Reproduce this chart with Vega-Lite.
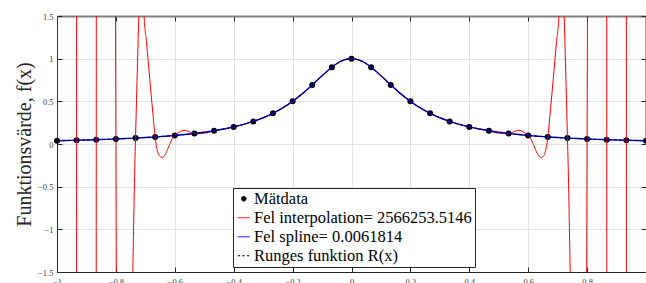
{
  "$schema": "https://vega.github.io/schema/vega-lite/v6.json",
  "width": 589,
  "height": 256,
  "autosize": {"type": "none"},
  "padding": {"left": 57, "top": 16, "right": 0, "bottom": 11},
  "background": "white",
  "config": {
    "view": {"stroke": null},
    "axis": {
      "labelFont": "Liberation Serif",
      "titleFont": "Liberation Serif",
      "labelFontSize": 8.5,
      "labelColor": "#404040",
      "domainColor": "#262626",
      "tickColor": "#262626",
      "gridColor": "#e3e3e3",
      "gridWidth": 1,
      "tickSize": -5,
      "domainWidth": 1,
      "format": "~g"
    }
  },
  "datasets": {
    "nodes": [
      {"x": -1, "y": 0.03846}, {"x": -0.9333, "y": 0.0439}, {"x": -0.8667, "y": 0.05056}, {"x": -0.8, "y": 0.05882},
      {"x": -0.7333, "y": 0.06923}, {"x": -0.6667, "y": 0.08257}, {"x": -0.6, "y": 0.1}, {"x": -0.5333, "y": 0.12329},
      {"x": -0.4667, "y": 0.15517}, {"x": -0.4, "y": 0.2}, {"x": -0.3333, "y": 0.26471}, {"x": -0.2667, "y": 0.36},
      {"x": -0.2, "y": 0.5}, {"x": -0.1333, "y": 0.69231}, {"x": -0.0667, "y": 0.9}, {"x": 0, "y": 1},
      {"x": 0.0667, "y": 0.9}, {"x": 0.1333, "y": 0.69231}, {"x": 0.2, "y": 0.5}, {"x": 0.2667, "y": 0.36},
      {"x": 0.3333, "y": 0.26471}, {"x": 0.4, "y": 0.2}, {"x": 0.4667, "y": 0.15517}, {"x": 0.5333, "y": 0.12329},
      {"x": 0.6, "y": 0.1}, {"x": 0.6667, "y": 0.08257}, {"x": 0.7333, "y": 0.06923}, {"x": 0.8, "y": 0.05882},
      {"x": 0.8667, "y": 0.05056}, {"x": 0.9333, "y": 0.0439}, {"x": 1, "y": 0.03846}
    ],
    "curve": [
      {"x": -1, "R": 0.03846}, {"x": -0.9667, "R": 0.04105}, {"x": -0.9333, "R": 0.0439}, {"x": -0.9, "R": 0.04706},
      {"x": -0.8667, "R": 0.05056}, {"x": -0.8333, "R": 0.05446}, {"x": -0.8, "R": 0.05882}, {"x": -0.7667, "R": 0.06372},
      {"x": -0.7333, "R": 0.06923}, {"x": -0.7, "R": 0.07547}, {"x": -0.6667, "R": 0.08257}, {"x": -0.6333, "R": 0.09068},
      {"x": -0.6, "R": 0.1}, {"x": -0.5667, "R": 0.11077}, {"x": -0.5333, "R": 0.12329}, {"x": -0.5, "R": 0.13793},
      {"x": -0.4667, "R": 0.15517}, {"x": -0.4333, "R": 0.17561}, {"x": -0.4, "R": 0.2}, {"x": -0.3667, "R": 0.2293},
      {"x": -0.3333, "R": 0.26471}, {"x": -0.3, "R": 0.30769}, {"x": -0.2667, "R": 0.36}, {"x": -0.2333, "R": 0.42353},
      {"x": -0.2, "R": 0.5}, {"x": -0.1667, "R": 0.59016}, {"x": -0.1333, "R": 0.69231}, {"x": -0.1, "R": 0.8},
      {"x": -0.0667, "R": 0.9}, {"x": -0.0333, "R": 0.97297}, {"x": 0, "R": 1},
      {"x": 0.0333, "R": 0.97297}, {"x": 0.0667, "R": 0.9}, {"x": 0.1, "R": 0.8}, {"x": 0.1333, "R": 0.69231},
      {"x": 0.1667, "R": 0.59016}, {"x": 0.2, "R": 0.5}, {"x": 0.2333, "R": 0.42353}, {"x": 0.2667, "R": 0.36},
      {"x": 0.3, "R": 0.30769}, {"x": 0.3333, "R": 0.26471}, {"x": 0.3667, "R": 0.2293}, {"x": 0.4, "R": 0.2},
      {"x": 0.4333, "R": 0.17561}, {"x": 0.4667, "R": 0.15517}, {"x": 0.5, "R": 0.13793}, {"x": 0.5333, "R": 0.12329},
      {"x": 0.5667, "R": 0.11077}, {"x": 0.6, "R": 0.1}, {"x": 0.6333, "R": 0.09068}, {"x": 0.6667, "R": 0.08257},
      {"x": 0.7, "R": 0.07547}, {"x": 0.7333, "R": 0.06923}, {"x": 0.7667, "R": 0.06372}, {"x": 0.8, "R": 0.05882},
      {"x": 0.8333, "R": 0.05446}, {"x": 0.8667, "R": 0.05056}, {"x": 0.9, "R": 0.04706}, {"x": 0.9333, "R": 0.0439},
      {"x": 0.9667, "R": 0.04105}, {"x": 1, "R": 0.03846}
    ],
    "interp": [
      {"x": -1, "p": 0.03846}, {"x": -0.99898, "p": 2000}, {"x": -0.99662, "p": 8000}, {"x": -0.98985, "p": 25000},
      {"x": -0.9797, "p": 40000}, {"x": -0.96954, "p": 35000}, {"x": -0.95939, "p": 20000}, {"x": -0.94924, "p": 7000},
      {"x": -0.93909, "p": 1000}, {"x": -0.93435, "p": 150}, {"x": -0.93333, "p": 0.0439},
      {"x": -0.93232, "p": -100}, {"x": -0.92995, "p": -400}, {"x": -0.92318, "p": -1200}, {"x": -0.91303, "p": -1900},
      {"x": -0.90288, "p": -1800}, {"x": -0.89272, "p": -1200}, {"x": -0.88257, "p": -500}, {"x": -0.87242, "p": -100},
      {"x": -0.86768, "p": -20}, {"x": -0.86667, "p": 0.05056},
      {"x": -0.86498, "p": 15}, {"x": -0.86328, "p": 30}, {"x": -0.8599, "p": 55}, {"x": -0.85313, "p": 85},
      {"x": -0.84636, "p": 95}, {"x": -0.8396, "p": 85}, {"x": -0.82945, "p": 60}, {"x": -0.81929, "p": 30},
      {"x": -0.80914, "p": 10}, {"x": -0.80407, "p": 4.06}, {"x": -0.8017, "p": 2.06}, {"x": -0.8, "p": 0.05882},
      {"x": -0.79831, "p": -1.94}, {"x": -0.79662, "p": -4.44}, {"x": -0.79323, "p": -8.94}, {"x": -0.78816, "p": -12.94},
      {"x": -0.78308, "p": -14.94}, {"x": -0.778, "p": -14.438}, {"x": -0.77124, "p": -11.437}, {"x": -0.76447, "p": -8.4356},
      {"x": -0.7577, "p": -5.7346}, {"x": -0.75093, "p": -3.5335}, {"x": -0.74586, "p": -2.2327}, {"x": -0.74247, "p": -1.4822},
      {"x": -0.73909, "p": -0.8317}, {"x": -0.7357, "p": -0.2511}, {"x": -0.73333, "p": 0.06923},
      {"x": -0.72995, "p": 0.5198}, {"x": -0.72656, "p": 0.9504}, {"x": -0.72217, "p": 1.501}, {"x": -0.71811, "p": 1.922},
      {"x": -0.71472, "p": 2.093}, {"x": -0.71134, "p": 2.053}, {"x": -0.70795, "p": 1.854}, {"x": -0.70423, "p": 1.5046},
      {"x": -0.69611, "p": 1.196}, {"x": -0.68494, "p": 0.7586}, {"x": -0.6758, "p": 0.4105}, {"x": -0.66667, "p": 0.08257},
      {"x": -0.66328, "p": -0.00666}, {"x": -0.6599, "p": -0.06587}, {"x": -0.65652, "p": -0.11008}, {"x": -0.65144, "p": -0.14186},
      {"x": -0.64637, "p": -0.15462}, {"x": -0.64298, "p": -0.15678}, {"x": -0.63791, "p": -0.1485}, {"x": -0.63114, "p": -0.11375},
      {"x": -0.62437, "p": -0.06194}, {"x": -0.6176, "p": -0.00509}, {"x": -0.61083, "p": 0.04683}, {"x": -0.60576, "p": 0.07829},
      {"x": -0.6, "p": 0.1}, {"x": -0.59323, "p": 0.11906}, {"x": -0.58646, "p": 0.13618}, {"x": -0.5797, "p": 0.14937},
      {"x": -0.57124, "p": 0.1592}, {"x": -0.56278, "p": 0.15713}, {"x": -0.55432, "p": 0.14818}, {"x": -0.54586, "p": 0.13636},
      {"x": -0.53909, "p": 0.12799}, {"x": -0.53333, "p": 0.12329}, {"x": -0.5198, "p": 0.12195}, {"x": -0.50288, "p": 0.12457},
      {"x": -0.48595, "p": 0.13685}, {"x": -0.46667, "p": 0.15517}, {"x": -0.43333, "p": 0.17561}, {"x": -0.4, "p": 0.2},
      {"x": -0.36667, "p": 0.2293}, {"x": -0.33333, "p": 0.26471}, {"x": -0.3, "p": 0.30769}, {"x": -0.26667, "p": 0.36},
      {"x": -0.23333, "p": 0.42353}, {"x": -0.2, "p": 0.5}, {"x": -0.16667, "p": 0.59016}, {"x": -0.13333, "p": 0.69231},
      {"x": -0.1, "p": 0.8}, {"x": -0.06667, "p": 0.9}, {"x": -0.03333, "p": 0.97297}, {"x": 0, "p": 1},
      {"x": 0.03333, "p": 0.97297}, {"x": 0.06667, "p": 0.9}, {"x": 0.1, "p": 0.8}, {"x": 0.13333, "p": 0.69231},
      {"x": 0.16667, "p": 0.59016}, {"x": 0.2, "p": 0.5}, {"x": 0.23333, "p": 0.42353}, {"x": 0.26667, "p": 0.36},
      {"x": 0.3, "p": 0.30769}, {"x": 0.33333, "p": 0.26471}, {"x": 0.36667, "p": 0.2293}, {"x": 0.4, "p": 0.2},
      {"x": 0.43333, "p": 0.17561}, {"x": 0.46667, "p": 0.15517}, {"x": 0.48595, "p": 0.13685}, {"x": 0.50288, "p": 0.12457},
      {"x": 0.5198, "p": 0.12195}, {"x": 0.53333, "p": 0.12329}, {"x": 0.53909, "p": 0.12799}, {"x": 0.54586, "p": 0.13636},
      {"x": 0.55432, "p": 0.14818}, {"x": 0.56278, "p": 0.15713}, {"x": 0.57124, "p": 0.1592}, {"x": 0.5797, "p": 0.14937},
      {"x": 0.58646, "p": 0.13618}, {"x": 0.59323, "p": 0.11906}, {"x": 0.6, "p": 0.1}, {"x": 0.60576, "p": 0.07829},
      {"x": 0.61083, "p": 0.04683}, {"x": 0.6176, "p": -0.00509}, {"x": 0.62437, "p": -0.06194}, {"x": 0.63114, "p": -0.11375},
      {"x": 0.63791, "p": -0.1485}, {"x": 0.64298, "p": -0.15678}, {"x": 0.64637, "p": -0.15462}, {"x": 0.65144, "p": -0.14186},
      {"x": 0.65652, "p": -0.11008}, {"x": 0.6599, "p": -0.06587}, {"x": 0.66328, "p": -0.00666}, {"x": 0.66667, "p": 0.08257},
      {"x": 0.6758, "p": 0.4105}, {"x": 0.68494, "p": 0.7586}, {"x": 0.69611, "p": 1.196}, {"x": 0.70423, "p": 1.5046},
      {"x": 0.70795, "p": 1.854}, {"x": 0.71134, "p": 2.053}, {"x": 0.71472, "p": 2.093}, {"x": 0.71811, "p": 1.922},
      {"x": 0.72217, "p": 1.501}, {"x": 0.72656, "p": 0.9504}, {"x": 0.72995, "p": 0.5198}, {"x": 0.73333, "p": 0.06923},
      {"x": 0.7357, "p": -0.2511}, {"x": 0.73909, "p": -0.8317}, {"x": 0.74247, "p": -1.4822}, {"x": 0.74586, "p": -2.2327},
      {"x": 0.75093, "p": -3.5335}, {"x": 0.7577, "p": -5.7346}, {"x": 0.76447, "p": -8.4356}, {"x": 0.77124, "p": -11.437},
      {"x": 0.778, "p": -14.438}, {"x": 0.78308, "p": -14.94}, {"x": 0.78816, "p": -12.94}, {"x": 0.79323, "p": -8.94},
      {"x": 0.79662, "p": -4.44}, {"x": 0.79831, "p": -1.94}, {"x": 0.8, "p": 0.05882},
      {"x": 0.8017, "p": 2.06}, {"x": 0.80407, "p": 4.06}, {"x": 0.80914, "p": 10}, {"x": 0.81929, "p": 30},
      {"x": 0.82945, "p": 60}, {"x": 0.8396, "p": 85}, {"x": 0.84636, "p": 95}, {"x": 0.85313, "p": 85},
      {"x": 0.8599, "p": 55}, {"x": 0.86328, "p": 30}, {"x": 0.86498, "p": 15}, {"x": 0.86667, "p": 0.05056},
      {"x": 0.86768, "p": -20}, {"x": 0.87242, "p": -100}, {"x": 0.88257, "p": -500}, {"x": 0.89272, "p": -1200},
      {"x": 0.90288, "p": -1800}, {"x": 0.91303, "p": -1900}, {"x": 0.92318, "p": -1200}, {"x": 0.92995, "p": -400},
      {"x": 0.93232, "p": -100}, {"x": 0.93333, "p": 0.0439},
      {"x": 0.93435, "p": 150}, {"x": 0.93909, "p": 1000}, {"x": 0.94924, "p": 7000}, {"x": 0.95939, "p": 20000},
      {"x": 0.96954, "p": 35000}, {"x": 0.9797, "p": 40000}, {"x": 0.98985, "p": 25000}, {"x": 0.99662, "p": 8000},
      {"x": 0.99898, "p": 2000}, {"x": 1, "p": 0.03846}
    ]
  },
  "layer": [
    {
      "data": {"name": "nodes"},
      "mark": {"type": "point", "filled": true, "size": 36, "opacity": 1},
      "encoding": {
        "x": {"field": "x", "type": "quantitative",
          "scale": {"domain": [-1, 1], "nice": false, "zero": false},
          "axis": {"values": [-1, -0.8, -0.6, -0.4, -0.2, 0, 0.2, 0.4, 0.6, 0.8, 1], "title": null, "grid": true, "labelPadding": 10.5, "labelFlush": false}},
        "y": {"field": "y", "type": "quantitative",
          "scale": {"domain": [-1.5, 1.5], "nice": false, "zero": false},
          "axis": {"values": [-1.5, -1, -0.5, 0, 0.5, 1, 1.5], "title": "Funktionsvärde, f(x)", "titleFontSize": 20, "titleFontWeight": "normal", "titleColor": "#262626", "titlePadding": 3, "grid": true, "labelPadding": 9, "labelFlush": false}},
        "color": {"datum": "Mätdata", "type": "nominal",
          "scale": {"domain": ["Mätdata", "Fel interpolation= 2566253.5146", "Fel spline= 0.0061814", "Runges funktion R(x)"], "range": ["black", "red", "blue", "black"]},
          "legend": {
            "orient": "none", "legendX": 176, "legendY": 172, "title": null,
            "padding": 2.5, "strokeColor": "#262626", "fillColor": "white",
            "labelFont": "Liberation Serif", "labelFontSize": 16.5, "labelColor": "black",
            "symbolType": {"expr": "datum.value === 'Mätdata' ? 'circle' : 'stroke'"},
            "symbolSize": {"expr": "datum.value === 'Mätdata' ? 22 : 144"},
            "symbolDash": {"expr": "datum.value === 'Runges funktion R(x)' ? [2.5, 2] : [1, 0]"},
            "symbolStrokeWidth": 1, "symbolOpacity": 1, "labelOffset": 2, "rowPadding": 2, "labelLimit": 400
          }}
      }
    },
    {
      "data": {"name": "interp"},
      "mark": {"type": "line", "clip": true, "strokeWidth": 1, "interpolate": "monotone"},
      "encoding": {
        "x": {"field": "x", "type": "quantitative", "scale": {"domain": [-1, 1], "nice": false, "zero": false}, "axis": null},
        "y": {"field": "p", "type": "quantitative", "scale": {"domain": [-1.5, 1.5], "nice": false, "zero": false}, "axis": null},
        "color": {"datum": "Fel interpolation= 2566253.5146", "type": "nominal"}
      }
    },
    {
      "data": {"name": "curve"},
      "mark": {"type": "line", "strokeWidth": 1.4, "interpolate": "monotone"},
      "encoding": {
        "x": {"field": "x", "type": "quantitative", "axis": null},
        "y": {"field": "R", "type": "quantitative", "axis": null},
        "color": {"datum": "Fel spline= 0.0061814", "type": "nominal"}
      }
    },
    {
      "data": {"name": "curve"},
      "mark": {"type": "line", "strokeWidth": 1, "strokeDash": [3, 2], "interpolate": "monotone"},
      "encoding": {
        "x": {"field": "x", "type": "quantitative",
          "axis": {"orient": "top", "labels": false, "grid": false, "title": null, "values": [-1, -0.8, -0.6, -0.4, -0.2, 0, 0.2, 0.4, 0.6, 0.8, 1], "domainColor": "#7f7f7f", "domainWidth": 2}},
        "y": {"field": "R", "type": "quantitative",
          "axis": {"orient": "right", "labels": false, "grid": false, "title": null, "values": [-1.5, -1, -0.5, 0, 0.5, 1, 1.5]}},
        "color": {"datum": "Runges funktion R(x)", "type": "nominal"}
      }
    }
  ],
  "resolve": {"axis": {"x": "independent", "y": "independent"}}
}
